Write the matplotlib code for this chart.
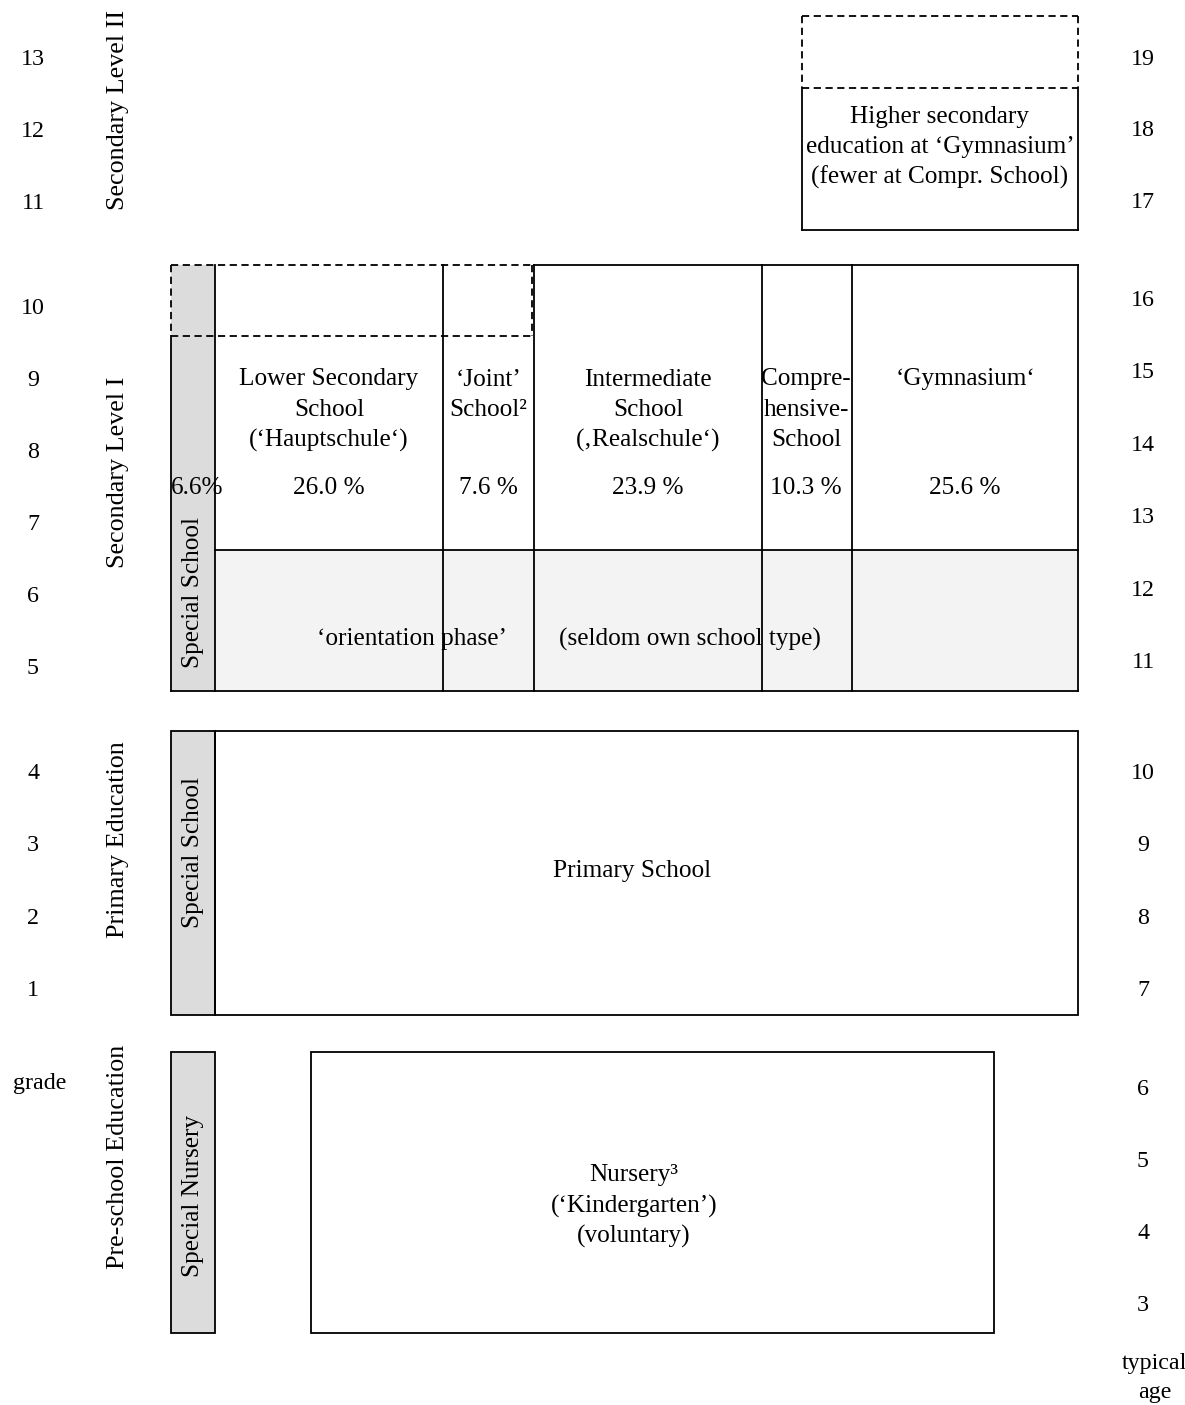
import matplotlib
matplotlib.use("Agg")
import matplotlib.pyplot as plt
from matplotlib.patches import Rectangle

plt.rcParams['font.family'] = ['Liberation Serif', 'DejaVu Serif']

# ---------------- data ----------------
levels = ["Secondary Level II", "Secondary Level I", "Primary Education", "Pre-school Education"]
grades_sec2 = [13, 12, 11]
ages_sec2 = [19, 18, 17]
grades_sec1 = [10, 9, 8, 7, 6, 5]
ages_sec1 = [16, 15, 14, 13, 12, 11]
grades_prim = [4, 3, 2, 1]
ages_prim = [10, 9, 8, 7]
ages_pre = [6, 5, 4, 3]

school_types = [["Lower Secondary", "School", "(‘Hauptschule‘)"],
                ["‘Joint’", "School²"],
                ["Intermediate", "School", "(‚Realschule‘)"],
                ["Compre-", "hensive-", "School"],
                ["‘Gymnasium‘"]]
shares = [26.0, 7.6, 23.9, 10.3, 25.6]
special_share = 6.6
upper_text = ["Higher secondary", "education at ‘Gymnasium’", "(fewer at Compr. School)"]
primary_text = "Primary School"
nursery_text = ["Nursery³", "(‘Kindergarten’)", "(voluntary)"]
orientation_texts = ["‘orientation phase’", "(seldom own school type)"]

# ---------------- layout (pixels) ----------------
W, H = 1185, 1405
fig = plt.figure(figsize=(W / 100, H / 100), dpi=100)
ax = fig.add_axes([0, 0, 1, 1])
ax.set_xlim(0, W)
ax.set_ylim(H, 0)
ax.axis('off')

LW = 1.3
GREY = '#dcdcdc'
LIGHT = '#f3f3f3'
FS = 18.2
FSN = 17.3
PITCH = 30.5

def rect(x0, y0, x1, y1, fc='none'):
    ax.add_patch(Rectangle((x0, y0), x1 - x0, y1 - y0, facecolor=fc,
                           edgecolor='black', linewidth=LW, zorder=2))

def hline(x0, x1, y, ls='-'):
    l, = ax.plot([x0, x1], [y, y], color='black', linewidth=LW, zorder=3, solid_capstyle='projecting')
    if ls == '--':
        l.set_dashes((4, 2.5))

def vline(x, y0, y1, ls='-'):
    l, = ax.plot([x, x], [y0, y1], color='black', linewidth=LW, zorder=3, solid_capstyle='projecting')
    if ls == '--':
        l.set_dashes((4, 2.5))

def lines_text(x, y_first, lines, fs=FS, pitch=PITCH):
    for k, s in enumerate(lines):
        ax.text(x, y_first + k * pitch, s, ha='center', va='center_baseline', fontsize=fs, zorder=4)

# grade / age labels
GX, AX = 33, 1143
def label_column(values, x, y0, pitch):
    for k, v in enumerate(values):
        ax.text(x, y0 + k * pitch, str(v), ha='center', va='center_baseline', fontsize=FSN)

label_column(grades_sec2, GX, 57, 72)
label_column(ages_sec2, AX, 57, 71.5)
label_column(grades_sec1, GX, 306, 72)
label_column(ages_sec1, AX, 298, 72.4)
label_column(grades_prim, GX, 771, 72.3)
label_column(ages_prim, AX, 771, 72.3)
label_column(ages_pre, AX, 1087, 72)
ax.text(40, 1081, "grade", ha='center', va='center_baseline', fontsize=FSN)
lines_text(1155, 1361, ["typical", "age"], fs=FSN, pitch=29)

# level labels (rotated)
for lab, yc in zip(levels, [110, 472, 840, 1157]):
    ax.text(118, yc, lab, rotation=90, ha='center', va='center', fontsize=FS + 0.6)

# ---------- Secondary Level II ----------
x0, x1 = 802, 1078
hline(x0, x1, 16, '--')
vline(x0, 16, 88, '--')
vline(x1, 16, 88, '--')
hline(x0, x1, 88, '--')
vline(x0, 88, 230)
vline(x1, 88, 230)
hline(x0, x1, 230)
lines_text(940, 114, upper_text)

# ---------- Secondary Level I ----------
top, dash_y, orient_y, bot = 265, 336, 550, 691
bar_x0, bar_x1 = 171, 215
col_edges = [215, 443, 534, 762, 852, 1078]
ax.add_patch(Rectangle((bar_x0, top), bar_x1 - bar_x0, bot - top, facecolor=GREY, edgecolor='none', zorder=1))
ax.add_patch(Rectangle((bar_x1, orient_y), col_edges[-1] - bar_x1, bot - orient_y,
                       facecolor=LIGHT, edgecolor='none', zorder=1))
# dashed upper part of left schools
hline(bar_x0, 532, top, '--')
vline(bar_x0, top, dash_y, '--')
vline(532, top, dash_y, '--')
hline(bar_x0, 532, dash_y, '--')
# solid parts
vline(bar_x0, dash_y, bot)
vline(bar_x1, top, bot)
for xe in col_edges[1:]:
    vline(xe, top, bot)
hline(col_edges[2], col_edges[5], top)
hline(bar_x1, col_edges[5], orient_y)
hline(bar_x0, col_edges[5], bot)

for i, (name, sh) in enumerate(zip(school_types, shares)):
    xc = (col_edges[i] + col_edges[i + 1]) / 2
    if i == 3:
        xc = 806
    lines_text(xc, 377, name)
    ax.text(xc, 486, f"{sh:.1f} %", ha='center', va='center_baseline', fontsize=FS, zorder=4)
ax.text(197, 486, f"{special_share}%", ha='center', va='center_baseline', fontsize=FS, zorder=4)
ax.text(193, 592, "Special School", rotation=90, ha='center', va='center', fontsize=FS, zorder=4)
ax.text(412, 637, orientation_texts[0], ha='center', va='center_baseline', fontsize=FS, zorder=4)
ax.text(690, 637, orientation_texts[1], ha='center', va='center_baseline', fontsize=FS, zorder=4)

# ---------- Primary ----------
ptop, pbot = 731, 1015
rect(bar_x0, ptop, bar_x1, pbot, fc=GREY)
rect(bar_x1, ptop, col_edges[-1], pbot)
ax.text(193, 852, "Special School", rotation=90, ha='center', va='center', fontsize=FS, zorder=4)
ax.text(632, 868, primary_text, ha='center', va='center_baseline', fontsize=FS, zorder=4)

# ---------- Pre-school ----------
ntop, nbot = 1052, 1333
rect(bar_x0, ntop, bar_x1, nbot, fc=GREY)
rect(311, ntop, 994, nbot)
ax.text(193, 1196, "Special Nursery", rotation=90, ha='center', va='center', fontsize=FS, zorder=4)
lines_text(634, 1173, nursery_text)

fig.savefig("out.png", dpi=100)
